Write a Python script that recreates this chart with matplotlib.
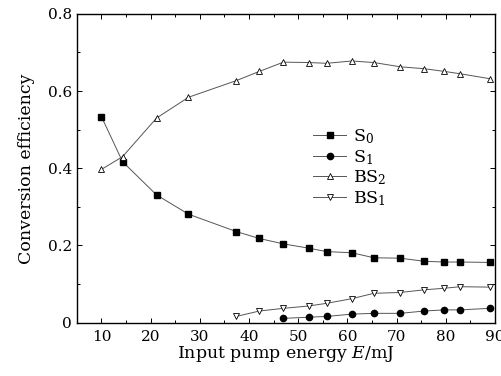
import numpy as np
import matplotlib
matplotlib.use("Agg")
import matplotlib.pyplot as plt

plt.rcParams['font.family'] = ['DejaVu Serif']
plt.rcParams['mathtext.fontset'] = 'dejavuserif'

# pump energy (mJ)
energy = [10, 14.3, 21.2, 27.7, 37.4, 42.1, 47.0, 52.1, 55.8, 60.9, 65.4, 70.7, 75.6, 79.7, 82.9, 89.0]

s0 = [0.534, 0.417, 0.331, 0.281, 0.236, 0.218, 0.204, 0.193, 0.184, 0.181,
      0.168, 0.167, 0.159, 0.157, 0.157, 0.156]
bs2 = [0.397, 0.430, 0.530, 0.584, 0.627, 0.651, 0.675, 0.674, 0.672, 0.678,
       0.674, 0.663, 0.658, 0.651, 0.645, 0.632]

energy_s1 = energy[6:]
s1 = [0.011, 0.014, 0.016, 0.022, 0.024, 0.024, 0.030, 0.033, 0.033, 0.037]

energy_bs1 = energy[4:]
bs1 = [0.016, 0.030, 0.037, 0.043, 0.050, 0.062, 0.076, 0.078, 0.085, 0.089,
       0.093, 0.092]

fig = plt.figure(figsize=(5.02, 3.76), dpi=100)
ax = fig.add_axes([0.153, 0.142, 0.833, 0.821])

lc = '#555555'
ax.plot(energy, s0, '-', color=lc, lw=0.7, marker='s', ms=4.3,
        mfc='black', mec='black', label='S$_0$')
ax.plot(energy_s1, s1, '-', color=lc, lw=0.7, marker='o', ms=4.5,
        mfc='black', mec='black', label='S$_1$')
ax.plot(energy, bs2, '-', color=lc, lw=0.7, marker='^', ms=5,
        mfc='white', mec='black', mew=0.6, label='BS$_2$')
ax.plot(energy_bs1, bs1, '-', color=lc, lw=0.7, marker='v', ms=5,
        mfc='white', mec='black', mew=0.6, label='BS$_1$')

ax.set_xlim(5, 90)
ax.set_ylim(0, 0.8)
ax.set_xticks(np.arange(10, 91, 10))
ax.set_xticks(np.arange(5, 91, 5), minor=True)
ax.set_yticks([0, 0.2, 0.4, 0.6, 0.8])
ax.set_yticklabels(['0', '0.2', '0.4', '0.6', '0.8'])
ax.set_yticks(np.arange(0, 0.81, 0.1), minor=True)

ax.tick_params(which='both', direction='in', top=True, right=True,
               labelsize=11, width=0.7)
ax.tick_params(which='major', length=3.5)
ax.tick_params(which='minor', length=2)
ax.tick_params(axis='x', pad=5)
for s in ax.spines.values():
    s.set_linewidth(1.0)

ax.set_xlabel('Input pump energy $E$/mJ', fontsize=12.5, labelpad=0)
ax.set_ylabel('Conversion efficiency', fontsize=12.5, labelpad=9)

ax.legend(loc='upper left', bbox_to_anchor=(0.545, 0.66), frameon=False,
          fontsize=12.5, handlelength=1.9, handletextpad=0.4,
          labelspacing=0.1, borderpad=0)

fig.savefig('out.png', dpi=100)
